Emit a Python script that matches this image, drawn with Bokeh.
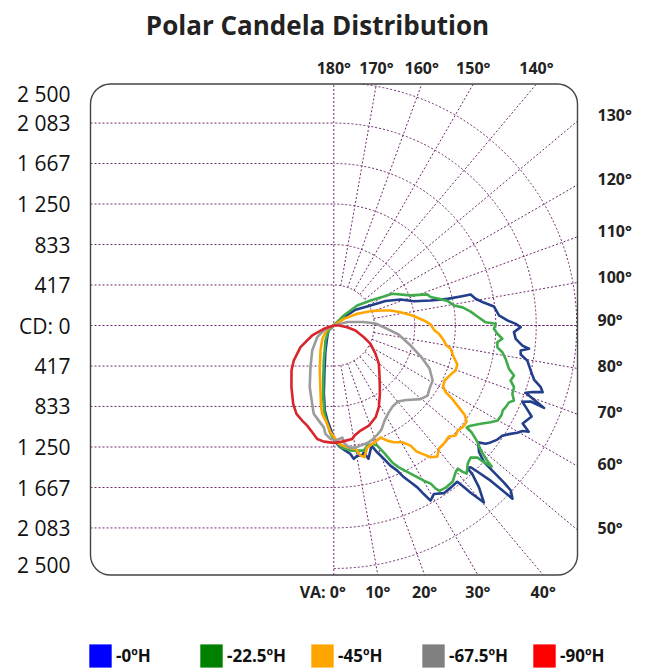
import numpy as np
from bokeh.plotting import figure
from bokeh.models import Range1d, Label, Legend, LegendItem, BoxAnnotation
from bokeh.embed import file_html
from bokeh.resources import INLINE

# ---------------- data ----------------
TITLE = "Polar Candela Distribution"
CD_TICKS = [417, 833, 1250, 1667, 2083, 2500]
CD_LABELS = ["417", "833", "1 250", "1 667", "2 083", "2 500"]
ZERO_LABEL = "CD: 0"
VA_GRID = list(range(10, 180, 10))
VA_LABELS = list(range(0, 190, 10))

SERIES_NAMES = ["-0ºH", "-22.5ºH", "-45ºH", "-67.5ºH", "-90ºH"]

va_0 = [-46.7, -46.7, -29.4, -18.4, -11.7, -8.3, -6.0, -3.8, -1.8, 0.8, 3.2, 5.3, 7.4, 8.5, 10.2,
        12.3, 13.3, 14.6, 17.4, 18.9, 20.6, 22.0, 23.6, 24.8, 26.1, 27.3, 28.1, 28.9, 30.7, 33.3,
        35.8, 38.3, 38.6, 39.3, 40.3, 41.9, 43.0, 43.1, 44.0, 44.5, 45.3, 45.6, 45.9, 47.0, 47.3,
        47.5, 47.7, 48.9, 51.0, 52.1, 53.3, 55.1, 56.8, 58.2, 59.7, 60.8, 61.4, 62.6, 65.3, 66.5,
        68.0, 68.9, 68.6, 69.7, 70.7, 71.5, 72.3, 73.4, 74.9, 77.1, 79.7, 81.2, 82.4, 83.2, 83.9,
        85.8, 87.9, 89.5, 90.5, 91.7, 93.5, 96.8, 98.7, 100.7, 102.8, 102.9, 103.2, 104.5, 106.9,
        111.3, 115.4, 118.6, 125.9, 129.7, 129.7]
cd_0 = [0, 75, 138, 271, 473, 711, 881, 981, 1065, 1202, 1256, 1293, 1333, 1388, 1361,
        1371, 1341, 1416, 1296, 1379, 1467, 1555, 1630, 1721, 1797, 1874, 1966, 2059, 2017, 2064,
        2057, 2049, 2094, 2223, 2388, 2237, 2090, 2011, 2028, 2110, 2270, 2404, 2560, 2490, 2383,
        2236, 2090, 1984, 1911, 1980, 2013, 2052, 2071, 2121, 2187, 2224, 2284, 2190, 2241, 2172,
        2093, 2172, 2324, 2194, 2092, 2158, 2256, 2222, 2134, 2079, 2024, 1946, 1940, 2023, 1952,
        1877, 1855, 1923, 1872, 1787, 1703, 1659, 1560, 1485, 1444, 1339, 1200, 1029, 861,
        737, 589, 431, 276, 134, 0]

va_22 = [-46.7, -46.7, -29.0, -15.9, -10.9, -8.4, -6.0, -3.8, -1.8, 0.8, 3.9, 7.6, 13.5, 15.6, 18.0,
         19.9, 21.5, 23.1, 24.6, 27.4, 30.1, 31.5, 32.0, 32.6, 34.6, 37.3, 39.6, 40.9, 41.3, 41.9,
         44.1, 46.0, 47.4, 47.6, 48.2, 48.7, 49.5, 51.0, 52.2, 52.5, 53.8, 56.2, 58.3, 59.9, 62.0,
         63.3, 64.6, 66.3, 67.4, 69.0, 71.1, 72.7, 74.5, 76.1, 79.0, 81.0, 82.4, 84.2, 85.5, 87.1,
         88.8, 90.6, 91.2, 93.6, 95.8, 98.0, 99.5, 102.2, 104.3, 106.4, 108.4, 111.4, 118.5, 120.1,
         124.3, 130.5, 135.0, 135.0]
cd_22 = [0, 75, 176, 375, 577, 750, 912, 1015, 1113, 1195, 1260, 1299, 1324, 1283, 1281,
         1314, 1406, 1532, 1606, 1717, 1846, 1908, 1979, 2019, 2027, 2019, 1965, 1948, 2002, 2048,
         1980, 1957, 2007, 2075, 2178, 2093, 1999, 1900, 1796, 1724, 1745, 1819, 1896, 1950, 1956,
         1946, 1958, 1968, 2008, 1968, 1960, 1906, 1924, 1857, 1801, 1756, 1698, 1692, 1740, 1685,
         1648, 1666, 1563, 1480, 1415, 1339, 1253, 1198, 1116, 1038, 1014, 849, 684, 595,
         457, 317, 145, 0]

va_45 = [-55.6, -55.6, -41.0, -28.0, -17.3, -11.6, -9.1, -7.5, -3.8, -1.8, 0.4, 2.3, 6.4, 10.0, 11.6,
         13.1, 15.3, 18.0, 22.6, 24.9, 27.1, 30.4, 32.6, 33.3, 34.6, 36.3, 38.3, 40.5, 42.8, 46.0,
         47.9, 49.7, 51.7, 54.1, 55.7, 56.8, 58.2, 59.2, 60.8, 63.6, 67.2, 69.7, 72.5, 75.2, 78.7,
         79.9, 82.2, 85.5, 87.2, 90.6, 93.2, 97.3, 101.3, 104.8, 107.8, 111.3, 116.6, 123.8, 123.8]
cd_45 = [0, 91, 177, 292, 485, 683, 834, 918, 1015, 1100, 1154, 1216, 1262, 1290, 1367,
         1391, 1303, 1281, 1250, 1306, 1350, 1393, 1467, 1552, 1605, 1683, 1719, 1666, 1662, 1646,
         1689, 1671, 1689, 1687, 1629, 1538, 1434, 1340, 1288, 1273, 1304, 1337, 1333, 1278, 1226,
         1179, 1143, 1085, 1038, 996, 928, 814, 700, 604, 505, 406, 270, 124, 0]

va_67 = [-63.4, -63.4, -54.8, -40.8, -29.2, -21.3, -15.4, -12.8, -9.0, -5.6, -4.4, -1.7, 0.8, 4.3, 5.2,
         7.3, 10.1, 12.5, 15.5, 18.7, 21.8, 24.6, 28.1, 32.2, 35.9, 40.0, 44.3, 49.7, 53.2, 56.6,
         60.9, 65.8, 70.0, 75.4, 82.1, 86.7, 92.7, 96.7, 104.3, 104.3]
cd_67 = [0, 115, 209, 340, 492, 682, 836, 932, 991, 1053, 1119, 1167, 1185, 1157, 1220,
         1267, 1276, 1266, 1261, 1240, 1209, 1178, 1109, 1059, 1030, 1022, 1072, 1171, 1205, 1180,
         1164, 1080, 962, 817, 673, 544, 430, 308, 145, 0]

va_90 = [-90.0, -71.7, -65.2, -56.9, -48.8, -43.2, -34.4, -27.4, -22.9, -18.4, -14.9, -11.4, -8.3, -4.9,
         0.0, 4.1, 9.2, 10.7, 14.3, 19.3, 24.5, 28.8, 34.0, 41.5, 49.6, 55.8, 63.5, 68.7, 77.0, 82.8,
         90.0, 90.0]
cd_90 = [0, 108, 245, 409, 548, 636, 771, 908, 987, 1031, 1066, 1121, 1180, 1199,
         1208, 1198, 1182, 1153, 1116, 1091, 1038, 961, 848, 711, 609, 519, 422, 332, 229, 139,
         51, 0]

SERIES_VA = [va_0, va_22, va_45, va_67, va_90]
SERIES_CD = [cd_0, cd_22, cd_45, cd_67, cd_90]

# ---------------- styles / layout ----------------
LINE_COLORS = ["#233f8c", "#3fab4a", "#ffa600", "#9b9b9b", "#d9262d"]
LEGEND_COLORS = ["#0000ff", "#008000", "#ffa500", "#808080", "#ff0000"]
GRID_COLOR = "#6e2a6e"
FONT = "Open Sans"

W, H = 649, 668
BOX_L_PX, BOX_R_PX, BOX_T_PX, BOX_B_PX = 90, 577, 83.5, 574.5   # canvas pixels
CX, CY = 333.3, 325.0                                             # polar centre, canvas pixels
K = 10.29                                                         # candela per pixel


def dx_(px):
    return (px - CX) * K


def dy_(py):
    return (CY - py) * K


box_l, box_r = dx_(BOX_L_PX), dx_(BOX_R_PX)
box_t, box_b = dy_(BOX_T_PX), dy_(BOX_B_PX)

p = figure(width=W, height=H, x_range=Range1d(dx_(0), dx_(W)), y_range=Range1d(dy_(H), dy_(0)),
           output_backend="svg", toolbar_location=None,
           x_axis_location=None, y_axis_location=None,
           min_border_left=0, min_border_right=0, min_border_top=0, min_border_bottom=0)
p.grid.visible = False
p.outline_line_color = None
p.background_fill_color = "white"
p.border_fill_color = "white"

gkw = dict(line_color=GRID_COLOR, line_dash="2 2", line_width=1)

# left horizontal grid lines
hy = [t for t in CD_TICKS[:-1]] + [-t for t in CD_TICKS[:-1]]
p.segment(x0=[box_l] * len(hy), y0=hy, x1=[0] * len(hy), y1=hy, **gkw)
# zero lines
p.segment(x0=[box_l], y0=[0], x1=[box_r], y1=[0], **gkw)
p.segment(x0=[0], y0=[box_b], x1=[0], y1=[box_t], **gkw)
# arcs (clipped to the box top/bottom)
ends = [np.arcsin(min(1.0, box_t / r)) for r in CD_TICKS]
starts = [-np.arcsin(min(1.0, -box_b / r)) for r in CD_TICKS]
p.arc(x=[0] * len(CD_TICKS), y=[0] * len(CD_TICKS), radius=CD_TICKS,
      start_angle=starts, end_angle=ends, **gkw)


def edge_hit(va):
    a = np.radians(va)
    ux, uy = np.sin(a), -np.cos(a)
    hits = []
    if ux > 1e-9:
        hits.append((box_r / ux, "right"))
    if uy > 1e-9:
        hits.append((box_t / uy, "top"))
    if uy < -1e-9:
        hits.append((box_b / uy, "bottom"))
    t, side = min(hits)
    return t * ux, t * uy, side


# radial lines
r_in = CD_TICKS[0]
rx0, ry0, rx1, ry1 = [], [], [], []
for va in VA_GRID:
    a = np.radians(va)
    ex, ey, _ = edge_hit(va)
    rx0.append(r_in * np.sin(a)); ry0.append(-r_in * np.cos(a))
    rx1.append(ex); ry1.append(ey)
p.segment(x0=rx0, y0=ry0, x1=rx1, y1=ry1, **gkw)

# rounded box
p.add_layout(BoxAnnotation(left=box_l, right=box_r, top=box_t, bottom=box_b,
                           fill_alpha=0, line_color="#444444", line_alpha=1.0, line_width=1.4,
                           border_radius=20, level="overlay"))

# curves
for vas, cds, col in zip(SERIES_VA, SERIES_CD, LINE_COLORS):
    a = np.radians(np.array(vas, dtype=float))
    c = np.array(cds, dtype=float)
    p.line(c * np.sin(a), -c * np.cos(a), line_color=col, line_width=2.6, line_join="round")

# left labels
pad = 10 * K
lkw = dict(text_align="right", text_baseline="middle", text_font=FONT,
           text_font_size="21px", text_color="#111111")
p.add_layout(Label(x=box_l, y=0, x_offset=-20, text=ZERO_LABEL, **lkw))
for t, lab in zip(CD_TICKS, CD_LABELS):
    for sgn in (1, -1):
        yy = min(max(sgn * t, box_b + pad), box_t - pad)
        p.add_layout(Label(x=box_l, y=yy, x_offset=-20, text=lab, **lkw))

# angle labels
akw = dict(text_font=FONT, text_font_style="bold", text_font_size="16px",
           text_color="#222222", text_baseline="middle")
for va in VA_LABELS:
    hx, hy_, side = edge_hit(va)
    if side == "right":
        lab = Label(x=box_r, y=hy_, x_offset=20, y_offset=(6 if va >= 90 else 2),
                    text=f"{va}°", text_align="left", **akw)
    elif side == "top":
        lab = Label(x=hx, y=box_t, y_offset=16, text=f"{va}°", text_align="center", **akw)
    elif va == 0:
        lab = Label(x=hx, y=box_b, y_offset=-17, x_offset=12, text="VA: 0°",
                    text_align="right", **akw)
    else:
        lab = Label(x=hx, y=box_b, y_offset=-17, text=f"{va}°", text_align="center", **akw)
    p.add_layout(lab)

# title
p.add_layout(Label(x=dx_(317), y=dy_(24), text=TITLE,
                   text_align="center", text_baseline="middle", text_font=FONT,
                   text_font_style="bold", text_font_size="26px", text_color="#222222"))

# legend (swatches drawn from placeholder renderers with no visible data)
items = []
for name, col in zip(SERIES_NAMES, LEGEND_COLORS):
    r = p.rect(x=[np.nan], y=[np.nan], width=1, height=1, fill_color=col, line_color=None)
    items.append(LegendItem(label=name, renderers=[r]))
legend = Legend(items=items, orientation="horizontal", location=(86, -2),
                glyph_width=28, glyph_height=29, label_standoff=2, label_width=70, spacing=11,
                padding=0, margin=0, border_line_color=None, background_fill_alpha=0,
                label_text_font=FONT, label_text_font_style="bold", label_text_font_size="17px",
                label_text_color="#111111")
p.add_layout(legend)

open("out.html", "w").write(file_html(p, INLINE))
